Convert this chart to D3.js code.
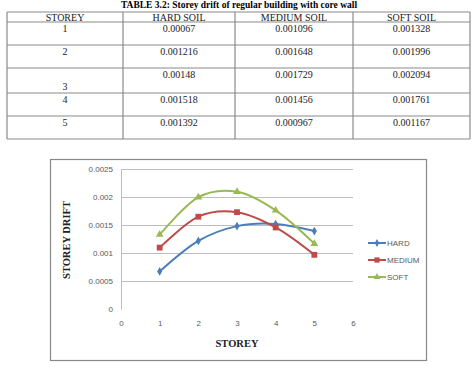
<!DOCTYPE html>
<html lang="en">
<head>
    <meta charset="UTF-8">
    <title>Storey drift</title>
    <script src="https://d3js.org/d3.v7.min.js"></script>
    <style>
        body { margin: 0; background: white; }
        svg { display: block; }
        .tbl text { font-family: "Liberation Serif", "Times New Roman", serif; font-size: 10px; fill: #222; }
        .tick text { font-family: "Liberation Sans", Arial, sans-serif; font-size: 8px; fill: #595959; }
        .legend text { font-family: "Liberation Sans", Arial, sans-serif; font-size: 8px; fill: #595959; }
        .atitle { font-family: "Liberation Serif", "Times New Roman", serif; font-size: 10.5px; font-weight: bold; fill: #222; }
    </style>
</head>
<body>
<script>
    const storeys = [1, 2, 3, 4, 5];
    const hard = [0.00067, 0.001216, 0.00148, 0.001518, 0.001392];
    const medium = [0.001096, 0.001648, 0.001729, 0.001456, 0.000967];
    const soft = [0.001328, 0.001996, 0.002094, 0.001761, 0.001167];
    const headers = ["STOREY", "HARD SOIL", "MEDIUM SOIL", "SOFT SOIL"];
    const hardText = ["0.00067", "0.001216", "0.00148", "0.001518", "0.001392"];
    const mediumText = ["0.001096", "0.001648", "0.001729", "0.001456", "0.000967"];
    const softText = ["0.001328", "0.001996", "0.002094", "0.001761", "0.001167"];
    const yTicks = [0, 0.0005, 0.001, 0.0015, 0.002, 0.0025];
    const xTicks = [0, 1, 2, 3, 4, 5, 6];

    const width = 474, height = 367;
    const svg = d3.select("body").append("svg")
        .attr("width", width).attr("height", height);

    // title
    svg.append("text")
        .attr("x", 239).attr("y", 8)
        .attr("text-anchor", "middle")
        .style("font-family", "Liberation Serif, serif")
        .style("font-size", "9.5px").style("font-weight", "bold")
        .text("TABLE 3.2: Storey drift of regular building with core wall");

    // table
    const colEdges = [7, 123, 235, 353, 470];
    const rowEdges = [12, 22, 45, 68, 93, 116, 139];
    const tbl = svg.append("g").attr("class", "tbl");
    rowEdges.forEach(y => {
        tbl.append("line").attr("x1", colEdges[0]).attr("x2", colEdges[4])
            .attr("y1", y).attr("y2", y).attr("stroke", "#8a8a8a").attr("stroke-width", 1.2);
    });
    colEdges.forEach(x => {
        tbl.append("line").attr("x1", x).attr("x2", x)
            .attr("y1", rowEdges[0]).attr("y2", rowEdges[6]).attr("stroke", "#8a8a8a").attr("stroke-width", 1.2);
    });
    const colMid = i => (colEdges[i] + colEdges[i + 1]) / 2;
    headers.forEach((h, i) => {
        tbl.append("text").attr("x", colMid(i)).attr("y", 20.5)
            .attr("text-anchor", "middle").text(h);
    });
    const cols = [storeys.map(String), hardText, mediumText, softText];
    storeys.forEach((s, r) => {
        cols.forEach((c, i) => {
            let y = rowEdges[r + 1] + 10;
            if (r === 2 && i === 0) y = rowEdges[r + 2] - 3;
            tbl.append("text").attr("x", colMid(i)).attr("y", y)
                .attr("text-anchor", "middle").text(c[r]);
        });
    });

    // chart frame
    svg.append("rect").attr("x", 50.5).attr("y", 159.5).attr("width", 376).attr("height", 201)
        .attr("fill", "white").attr("stroke", "#888").attr("stroke-width", 1.2);

    const x = d3.scaleLinear().domain([0, 6]).range([121, 353]);
    const y = d3.scaleLinear().domain([0, 0.0025]).range([309, 169]);

    // gridlines
    svg.append("g").selectAll("line").data(yTicks.slice(1)).join("line")
        .attr("x1", x(0)).attr("x2", x(6))
        .attr("y1", d => Math.round(y(d)) + 0.5).attr("y2", d => Math.round(y(d)) + 0.5)
        .attr("stroke", "#bdbdbd").attr("stroke-width", 1);

    const yAxis = svg.append("g").attr("transform", `translate(${x(0)},0)`)
        .call(d3.axisLeft(y).tickValues(yTicks).tickSize(0).tickPadding(8).tickFormat(d => String(+d.toFixed(4))));
    yAxis.select(".domain").attr("stroke", "#bdbdbd");

    const xAxis = svg.append("g").attr("transform", `translate(0,${y(0)})`)
        .call(d3.axisBottom(x).tickValues(xTicks).tickSize(0).tickPadding(11).tickFormat(d3.format("d")));
    xAxis.select(".domain").remove();

    svg.append("text").attr("class", "atitle")
        .attr("x", 237).attr("y", 347).attr("text-anchor", "middle").text("STOREY");
    svg.append("text").attr("class", "atitle")
        .attr("transform", "translate(70,240) rotate(-90)")
        .attr("text-anchor", "middle").text("STOREY DRIFT");

    const series = [
        { name: "HARD", values: hard, color: "#4a7ebb", symbol: d3.symbolDiamond, size: 22 },
        { name: "MEDIUM", values: medium, color: "#be4b48", symbol: d3.symbolSquare, size: 34 },
        { name: "SOFT", values: soft, color: "#98b954", symbol: d3.symbolTriangle, size: 26 }
    ];

    const line = d3.line()
        .x((d, i) => x(storeys[i]))
        .y(d => y(d))
        .curve(d3.curveCatmullRom.alpha(0));

    series.forEach(s => {
        svg.append("path").datum(s.values)
            .attr("d", line).attr("fill", "none")
            .attr("stroke", s.color).attr("stroke-width", 2);
        svg.append("g").selectAll("path").data(s.values).join("path")
            .attr("d", d3.symbol().type(s.symbol).size(s.size))
            .attr("transform", (d, i) => `translate(${x(storeys[i])},${y(d)})`)
            .attr("fill", s.color);
    });

    // legend
    const legend = svg.append("g").attr("class", "legend");
    series.forEach((s, i) => {
        const ly = 243 + i * 17;
        legend.append("line").attr("x1", 368).attr("x2", 386).attr("y1", ly).attr("y2", ly)
            .attr("stroke", s.color).attr("stroke-width", 2);
        legend.append("path").attr("d", d3.symbol().type(s.symbol).size(s.size * 0.8))
            .attr("transform", `translate(377,${ly})`).attr("fill", s.color);
        legend.append("text").attr("x", 387).attr("y", ly + 2.8).text(s.name);
    });
</script>
</body>
</html>
